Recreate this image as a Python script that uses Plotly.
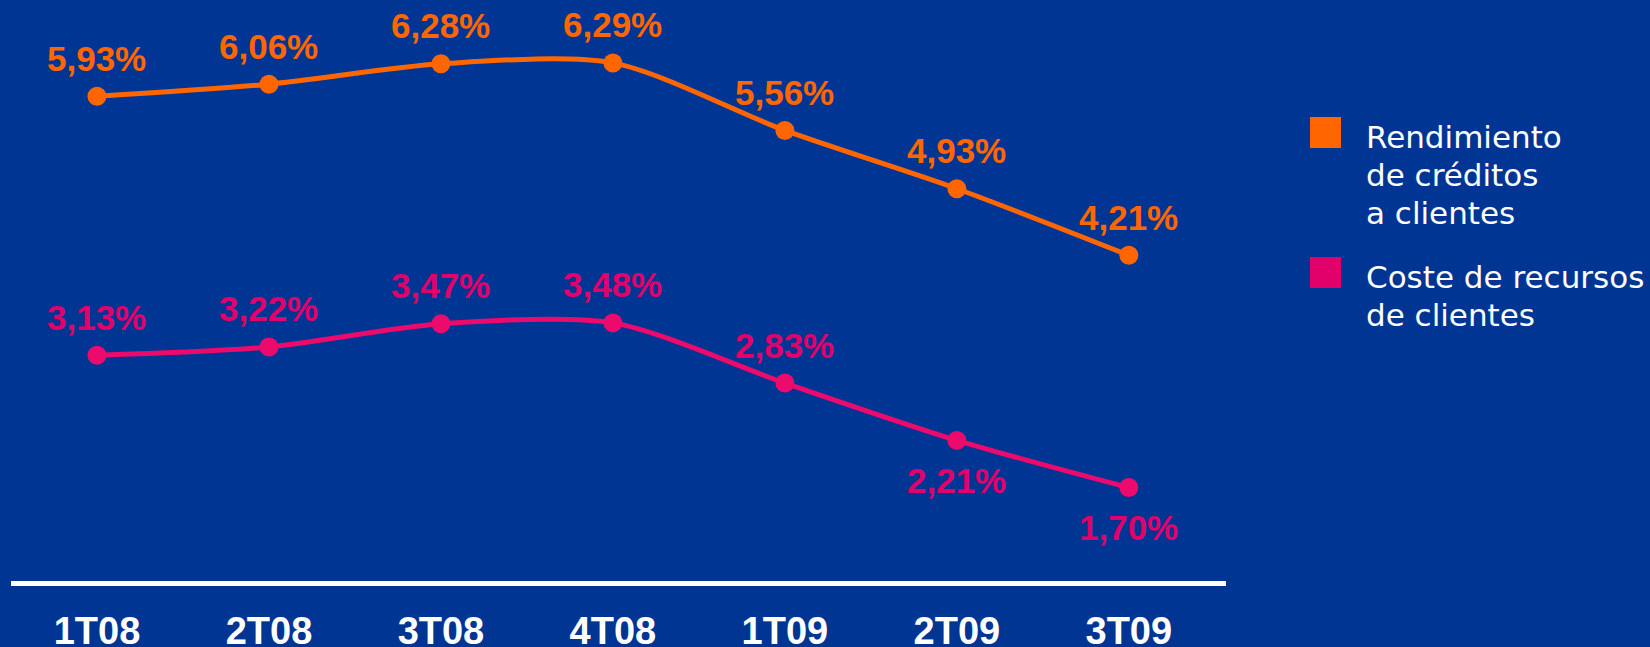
import plotly.graph_objects as go

categories = ["1T08", "2T08", "3T08", "4T08", "1T09", "2T09", "3T09"]
rendimiento = [5.93, 6.06, 6.28, 6.29, 5.56, 4.93, 4.21]
coste = [3.13, 3.22, 3.47, 3.48, 2.83, 2.21, 1.70]
series_names = ["Rendimiento<br>de créditos<br>a clientes", "Coste de recursos<br>de clientes"]

BG = "#003594"
ORANGE = "#FF6600"
PINK = "#E2006A"
PINK_LINE = "#EC0A6C"
coste_label_below = [False, False, False, False, False, True, True]

def fmt(v):
    return f"{v:.2f}".replace(".", ",") + "%"

xs = list(range(len(categories)))
fig = go.Figure()
for vals, col in [(rendimiento, ORANGE), (coste, PINK_LINE)]:
    fig.add_trace(go.Scatter(
        x=xs, y=vals, mode="lines+markers",
        line=dict(color=col, width=5, shape="spline", smoothing=0.8),
        marker=dict(color=col, size=19),
        showlegend=False, hoverinfo="skip"))

LABEL_FONT = "Liberation Sans, Arial, sans-serif"
annotations = []
for i, v in enumerate(rendimiento):
    annotations.append(dict(x=i, y=v, xref="x", yref="y", text=f"<b>{fmt(v)}</b>",
                            showarrow=False, yanchor="middle", yshift=38,
                            font=dict(family=LABEL_FONT, size=35, color=ORANGE)))
for i, v in enumerate(coste):
    below = coste_label_below[i]
    annotations.append(dict(x=i, y=v, xref="x", yref="y", text=f"<b>{fmt(v)}</b>",
                            showarrow=False, yanchor="middle", yshift=-40 if below else 38,
                            font=dict(family=LABEL_FONT, size=35, color=PINK)))

# custom legend (layout elements)
PLOT_H = 581
def py(p):
    return (PLOT_H - p) / PLOT_H

shapes = []
legend_rows = [(ORANGE, 117, series_names[0]), (PINK, 257, series_names[1])]
for col, top, name in legend_rows:
    shapes.append(dict(type="rect", xref="paper", yref="paper",
                       x0=(1310 - 11) / 1215, x1=(1341 - 11) / 1215,
                       y0=py(top + 31), y1=py(top), fillcolor=col, line=dict(width=0)))
    for j, line in enumerate(name.split("<br>")):
        annotations.append(dict(x=(1364 - 11) / 1215, y=py(top + 20 + j * 38), xref="paper", yref="paper",
                                text=line, showarrow=False, xanchor="left", yanchor="middle",
                                font=dict(family="DejaVu Sans, sans-serif", size=31, color="white")))

fig.update_layout(
    width=1650, height=647,
    paper_bgcolor=BG, plot_bgcolor=BG,
    margin=dict(l=11, r=424, t=0, b=66),
    showlegend=False,
    annotations=annotations, shapes=shapes,
    xaxis=dict(range=[-0.5, 6.565], tickvals=xs, ticktext=[f"<b>{c}</b>" for c in categories],
               showgrid=False, zeroline=False, showline=True, linecolor="white", linewidth=5,
               ticks="", ticklabelstandoff=12, automargin=False,
               tickfont=dict(family=LABEL_FONT, size=38, color="white")),
    yaxis=dict(range=[0.69, 6.97], visible=False, showgrid=False, zeroline=False, automargin=False),
)
fig.write_html("out.html", config={"displayModeBar": False},
               post_script="document.body.style.margin='0';document.body.style.padding='0';document.body.style.overflow='hidden';")
